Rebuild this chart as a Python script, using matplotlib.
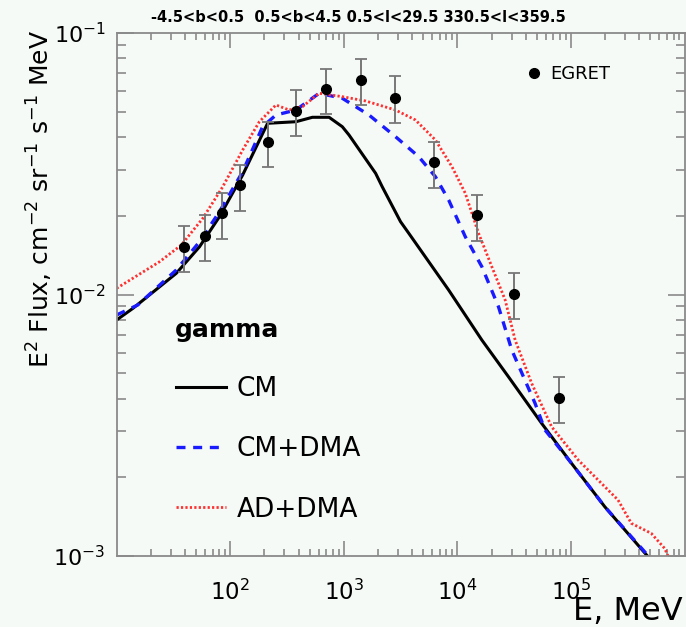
import matplotlib
matplotlib.use("Agg")
import matplotlib.pyplot as plt
from matplotlib.ticker import LogLocator, NullFormatter
from matplotlib.lines import Line2D

# EGRET points, MeV and E^2 flux with error bar limits
egret_e = [38.9, 59.4, 84.2, 122.9, 213.3, 383, 702, 1415, 2812, 6271, 14737, 31560, 77700]
egret_f = [0.01524, 0.01679, 0.02044, 0.02623, 0.03839, 0.05045, 0.06091, 0.06612,
           0.05656, 0.03203, 0.02009, 0.01007, 0.00403]
egret_hi = [0.01833, 0.02014, 0.02451, 0.03128, 0.04578, 0.06053, 0.07283, 0.07931,
            0.06820, 0.03839, 0.02407, 0.01208, 0.004825]
egret_lo = [0.01216, 0.01342, 0.01635, 0.02092, 0.03081, 0.04037, 0.04888, 0.05291,
            0.04535, 0.02561, 0.01606, 0.008039, 0.003217]

# model curves
cm_e = [10, 13.95, 33.5, 53.7, 80.4, 128.7, 213.3, 378.6, 529, 742, 970, 1111, 1905,
        2176, 3156, 3732, 8373, 16400, 28120, 55110, 101000, 198300, 490000]
cm_f = [0.00799, 0.00886, 0.01205, 0.01523, 0.01984, 0.02864, 0.04515, 0.04578, 0.0476,
        0.0476, 0.04381, 0.04073, 0.02907, 0.02584, 0.01899, 0.01714, 0.0104, 0.006699,
        0.004848, 0.003217, 0.002262, 0.001543, 0.00098]

dma_e = [10, 15.35, 33.5, 53.7, 80.4, 128.7, 192.8, 252.7, 378.6, 606, 970, 1664, 2852,
         4566, 6400, 8373, 11730, 16400, 22980, 30080, 48230, 59030, 101000, 198300, 500000]
dma_f = [0.00835, 0.009118, 0.01241, 0.01591, 0.02073, 0.02949, 0.04382, 0.04858, 0.05075,
         0.0588, 0.05627, 0.04858, 0.04012, 0.03365, 0.02821, 0.02298, 0.01663, 0.01278,
         0.008983, 0.006135, 0.003837, 0.003033, 0.002262, 0.001543, 0.00098]

ad_e = [10, 23.9, 37.1, 57.4, 86.0, 128.7, 180.4, 252.7, 330.6, 432.5, 606, 970, 1556,
        2852, 4272, 6400, 8949, 11730, 15350, 20070, 26320, 32200, 45030, 67440, 115700,
        198300, 259400, 339400, 508300, 666200, 730000]
ad_f = [0.01056, 0.01335, 0.01546, 0.01956, 0.02584, 0.03569, 0.04578, 0.05306, 0.05075,
        0.05227, 0.0588, 0.05708, 0.05495, 0.05075, 0.04648, 0.03898, 0.03082, 0.02438,
        0.01714, 0.01278, 0.009528, 0.006699, 0.004574, 0.003122, 0.002329, 0.001841,
        0.001637, 0.001334, 0.001221, 0.00107, 0.00098]

top_label = "-4.5<b<0.5  0.5<b<4.5 0.5<l<29.5 330.5<l<359.5"

bg = "#f6faf7"
grey = "#8a8a8a"
W, H = 686, 627

fig = plt.figure(figsize=(W / 100, H / 100), dpi=100, facecolor=bg)
ax = fig.add_axes([0.170, 0.1132, 0.828, 0.8342], facecolor=bg)

l_cm, = ax.plot(cm_e, cm_f, color="black", lw=2.2, label="CM")
l_dma, = ax.plot(dma_e, dma_f, color="#1a1aff", lw=2.4, ls=(0, (2.7, 2.3)), label="CM+DMA")
l_ad, = ax.plot(ad_e, ad_f, color="#ff3030", lw=2.0, ls=(0, (0.8, 0.8)), label="AD+DMA")

yerr = [[f - lo for f, lo in zip(egret_f, egret_lo)],
        [hi - f for f, hi in zip(egret_f, egret_hi)]]
ax.errorbar(egret_e, egret_f, yerr=yerr, fmt="none", ecolor="#777777", elinewidth=1.4,
            capsize=4, capthick=1.3, zorder=4)
ax.plot(egret_e, egret_f, "o", color="black", ms=7, zorder=5)

ax.set_xscale("log")
ax.set_yscale("log")
ax.set_xlim(10, 1e6)
ax.set_ylim(1e-3, 1e-1)

ax.set_xticks([1e2, 1e3, 1e4, 1e5])
ax.xaxis.set_minor_locator(LogLocator(base=10, subs=range(2, 10), numticks=20))
ax.yaxis.set_minor_locator(LogLocator(base=10, subs=range(2, 10), numticks=20))
ax.xaxis.set_minor_formatter(NullFormatter())
ax.yaxis.set_minor_formatter(NullFormatter())

for s in ax.spines.values():
    s.set_color(grey)
    s.set_linewidth(1.3)
ax.tick_params(which="both", direction="in", top=True, right=True, color=grey, width=1.2)
ax.tick_params(axis="x", which="major", length=11, pad=17, labelsize=16.5)
ax.tick_params(axis="x", which="minor", length=5)
ax.tick_params(axis="y", which="major", length=12, pad=8, labelsize=16)
ax.tick_params(axis="y", which="minor", length=6.5)

fig.text(55 / W, 1 - 30 / H, r"E$^2$ Flux, cm$^{-2}$ sr$^{-1}$ s$^{-1}$ MeV",
         rotation=90, ha="right", va="top", fontsize=18)
fig.text(683 / W, 1 - 620 / H, "E, MeV", ha="right", va="baseline", fontsize=23)
fig.text(358 / W, 1 - 18 / H, top_label, ha="center", va="center", fontsize=10.5,
         fontweight="bold")
fig.text(175 / W, 1 - 337 / H, "gamma", ha="left", va="baseline", fontsize=18,
         fontweight="bold")

leg = ax.legend(handles=[l_cm, l_dma, l_ad], loc="upper left",
                bbox_to_anchor=(176 / W, 1 - 376 / H), bbox_transform=fig.transFigure,
                frameon=False, fontsize=19, handlelength=1.9, handletextpad=0.4,
                labelspacing=1.3, borderpad=0, borderaxespad=0)
ax.add_artist(leg)

egret_handle = Line2D([], [], ls="none", marker="o", color="black", ms=7)
ax.legend(handles=[egret_handle], labels=["EGRET"], loc="center left",
          bbox_to_anchor=(527 / W, 1 - 74 / H), bbox_transform=fig.transFigure,
          frameon=False, fontsize=13, handlelength=0.8, handletextpad=0.5,
          borderpad=0, borderaxespad=0)

fig.savefig("out.png", dpi=100, facecolor=bg)
